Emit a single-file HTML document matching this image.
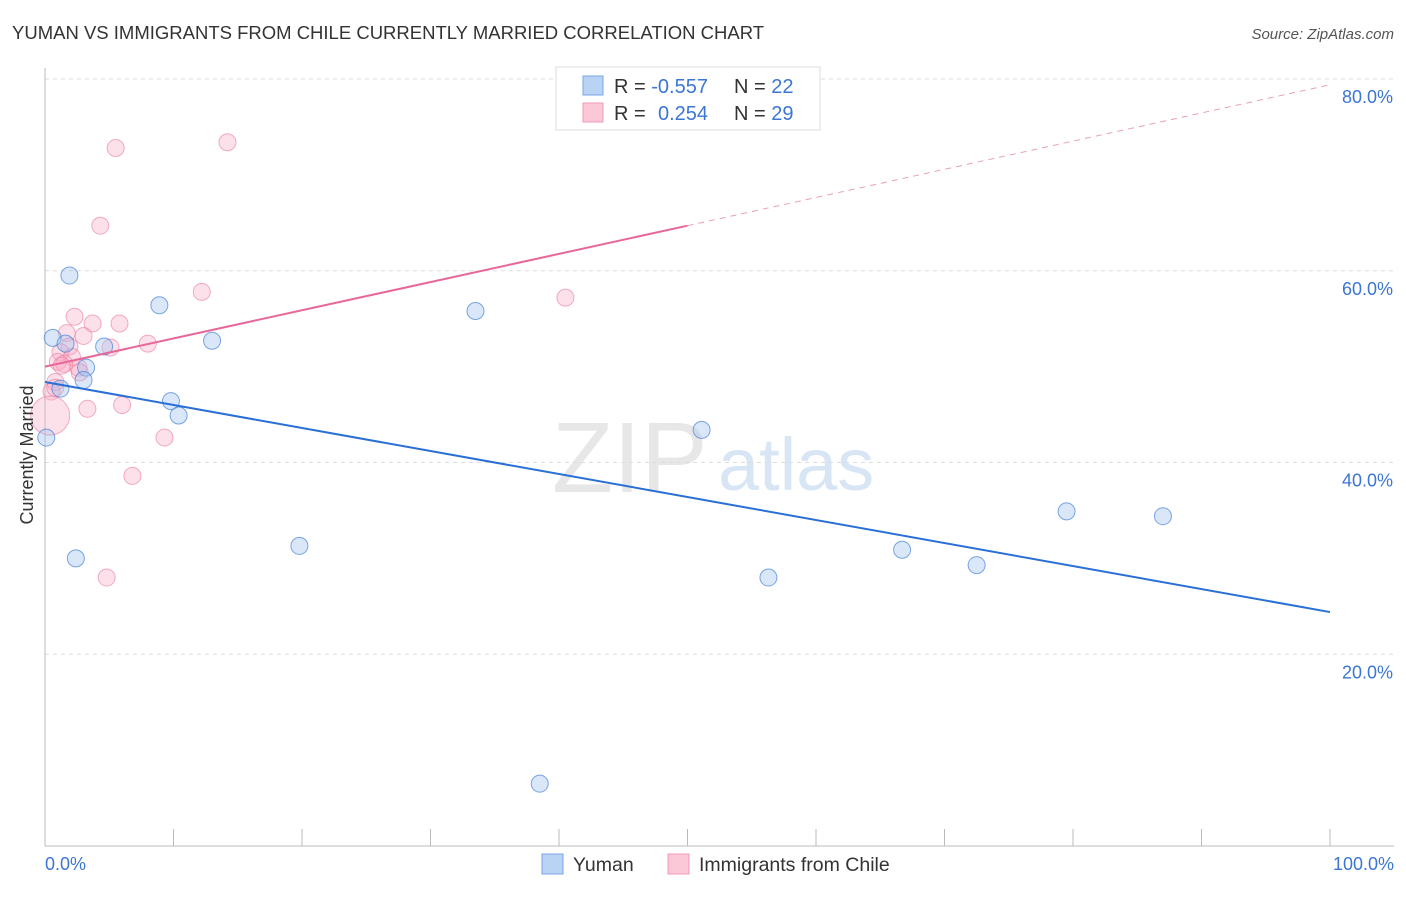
<!DOCTYPE html>
<html><head><meta charset="utf-8"><style>
body{margin:0;background:#fff;font-family:"Liberation Sans",sans-serif}
svg text{font-family:"Liberation Sans",sans-serif}
</style></head><body>
<svg id="chart" width="1406" height="892">
<text x="12" y="39" font-size="18.5" fill="#333">YUMAN VS IMMIGRANTS FROM CHILE CURRENTLY MARRIED CORRELATION CHART</text>
<text x="1394" y="39" font-size="15" fill="#555" text-anchor="end" font-style="italic">Source: ZipAtlas.com</text>
<g><text x="552" y="492" font-size="100" fill="#ddd" font-family="Liberation Serif" opacity="0.7">ZIP</text><text x="718" y="490" font-size="74" fill="#c7dbf2" opacity="0.7">atlas</text></g>
<g id="grid"></g><g id="axes"></g><g id="marks"></g>
<text transform="translate(33,455) rotate(-90)" font-size="18" fill="#333" text-anchor="middle">Currently Married</text>
<text x="45" y="870" font-size="18" fill="#3b76d4">0.0%</text>
<text x="1394" y="870" font-size="18" fill="#3b76d4" text-anchor="end">100.0%</text>
<g>
<rect x="556" y="67" width="264" height="63" fill="#fff" stroke="#ddd"/>
<rect x="583" y="76" width="20" height="19" fill="#b9d3f5" stroke="#7aa6e6"/>
<rect x="583" y="103" width="20" height="19" fill="#fbc8d8" stroke="#f09ab5"/>
<text x="614" y="93" font-size="20" fill="#333">R = <tspan fill="#3b76d4">-0.557</tspan><tspan x="734">N = </tspan><tspan fill="#3b76d4">22</tspan></text>
<text x="614" y="120" font-size="20" fill="#333">R = <tspan x="658" fill="#3b76d4">0.254</tspan><tspan x="734">N = </tspan><tspan fill="#3b76d4">29</tspan></text>
</g>
<g>
<rect x="542" y="854" width="21" height="20" fill="#b9d3f5" stroke="#7aa6e6"/>
<text x="573" y="871" font-size="19.5" fill="#333">Yuman</text>
<rect x="668" y="854" width="21" height="20" fill="#fbc8d8" stroke="#f09ab5"/>
<text x="699" y="871" font-size="19.5" fill="#333">Immigrants from Chile</text>
</g>
</svg>
<script>
const yTicks=[20,40,60,80];
const yTickLabels=["20.0%","40.0%","60.0%","80.0%"];
const xTicks=[0,10,20,30,40,50,60,70,80,90,100];
const blueX=[1.9,0.6,1.6,4.6,8.9,13.0,3.2,3.0,1.2,9.8,10.4,0.1,2.4,19.8,33.5,51.1,56.3,66.7,72.5,79.5,87.0,38.5];
const blueY=[59.5,53.0,52.4,52.1,56.4,52.7,49.9,48.6,47.7,46.4,44.9,42.6,30.0,31.3,55.8,43.4,28.0,30.9,29.3,34.9,34.4,6.5];
const pinkX=[5.5,14.2,4.3,12.2,40.5,2.3,3.7,5.8,1.7,3.0,8.0,5.1,1.9,1.2,2.1,1.0,2.6,0.8,0.5,0.4,3.3,6.0,9.3,6.8,4.8,1.5,2.7,0.8,1.3];
const pinkY=[72.8,73.4,64.7,57.8,57.2,55.2,54.5,54.5,53.5,53.2,52.4,52.0,52.1,51.5,51.0,50.5,49.9,48.4,47.4,44.9,45.6,46.0,42.6,38.6,28.0,50.3,49.4,47.8,50.1];
const pinkSize=[1,1,1,1,1,1,1,1,1,1,1,1,1,1,1,1,1,1,1,2.3,1,1,1,1,1,1,1,1,1];
const blueTrend=[48.4,24.4];
const pinkTrend=[50.0,79.4];
const pinkSolidEnd=50;
const X=v=>45+v*12.85, Y=v=>846-v*9.5875;
const NS="http://www.w3.org/2000/svg";
function mk(t,a,p){const e=document.createElementNS(NS,t);for(const k in a)e.setAttribute(k,a[k]);document.getElementById(p).appendChild(e);return e;}
yTicks.forEach((v,i)=>{
 const g=mk('line',{x1:45,x2:1394,y1:Y(v),y2:Y(v),stroke:'#ddd','stroke-dasharray':'4,4'},'grid');
 
 
 const t=mk('text',{x:1393,y:Y(v)+24,'font-size':18,fill:'#3b76d4','text-anchor':'end'},'grid');
 t.textContent=yTickLabels[i];
 
 
});
const ax=mk('line',{x1:45,x2:1394,y1:846,y2:846,stroke:'#bbb'},'axes');


const ay=mk('line',{x1:45,x2:45,y1:68,y2:846,stroke:'#bbb'},'axes');


xTicks.forEach(v=>{const t=mk('line',{x1:X(v),x2:X(v),y1:829,y2:846,stroke:'#bbb'},'axes');
 
 });
pinkX.forEach((x,i)=>{const c=mk('circle',{cx:X(x),cy:Y(pinkY[i]),r:8.5*pinkSize[i],fill:'rgba(248,170,195,0.35)',stroke:'rgba(235,120,155,0.6)','stroke-width':1},'marks');
 
 });
blueX.forEach((x,i)=>{const c=mk('circle',{cx:X(x),cy:Y(blueY[i]),r:8.5,fill:'rgba(160,195,240,0.4)',stroke:'rgba(70,130,215,0.7)','stroke-width':1},'marks');
 
 });
const bl=mk('line',{x1:X(0),y1:Y(blueTrend[0]),x2:X(100),y2:Y(blueTrend[1]),stroke:'#2a6fd6','stroke-width':2},'marks');


const pm=pinkTrend[0]+(pinkTrend[1]-pinkTrend[0])*pinkSolidEnd/100;
const pl=mk('line',{x1:X(0),y1:Y(pinkTrend[0]),x2:X(pinkSolidEnd),y2:Y(pm),stroke:'#e8679a','stroke-width':2},'marks');


const pd=mk('line',{x1:X(pinkSolidEnd),y1:Y(pm),x2:X(100),y2:Y(pinkTrend[1]),stroke:'#e8a0b8','stroke-width':1,'stroke-dasharray':'6,5'},'marks');


</script>
</body></html>
